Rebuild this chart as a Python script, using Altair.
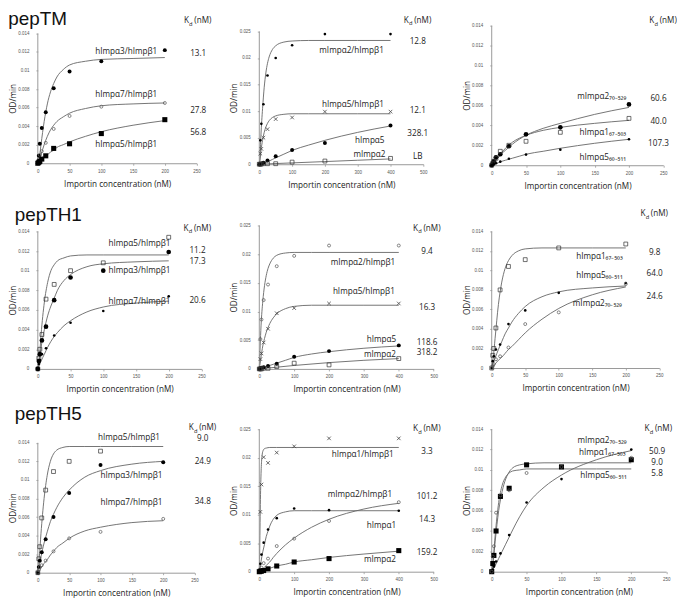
import altair as alt
import pandas as pd

FONT = "Open Sans"
TFONT = "Liberation Sans"

# concentrations of the measured points and of the fitted-curve readings
X200 = [0, 1.5625, 3.125, 6.25, 12.5, 25, 50, 100, 200]
X400 = [0, 3.125, 6.25, 12.5, 25, 50, 100, 200, 400]
G200 = [0, 2.5, 5, 10, 15, 20, 25, 30, 40, 50, 75, 100, 150, 200]
G400 = [0, 2.5, 5, 10, 15, 20, 25, 30, 40, 50, 75, 100, 150, 200, 300, 400]
GFAST = [0, 1, 2, 3, 4, 6, 8, 10, 15, 20, 30, 50, 100, 200, 400]
GLIN = [0, 100, 200, 300, 400]

# ---- pepTM, left
TM1_A3_P = [0, 0.0008, 0.0021, 0.0038, 0.0055, 0.0081, 0.0099, 0.0110, 0.0122]
TM1_A3_F = [0, 0.0006, 0.0020, 0.0045, 0.0064, 0.0077, 0.0086, 0.0093, 0.0101, 0.0106, 0.0110, 0.0112, 0.0113, 0.0114]
TM1_A7_P = [0, 0.0004, 0.0009, 0.0013, 0.0022, 0.0037, 0.0051, 0.0061, 0.0065]
TM1_A7_F = [0, 0.0003, 0.0009, 0.0020, 0.0029, 0.0036, 0.0041, 0.0045, 0.0050, 0.0054, 0.0059, 0.0062, 0.0064, 0.0065]
TM1_A5_P = [0, 0.0001, 0.0002, 0.00045, 0.0008, 0.0016, 0.0021, 0.0032, 0.0047]
TM1_A5_F = [0, 0.0001, 0.0003, 0.0006, 0.0009, 0.0012, 0.0014, 0.0017, 0.0020, 0.0023, 0.0029, 0.0034, 0.0041, 0.0046]
# ---- pepTM, middle
TM2_MA2B_P = [0, 0.0045, 0.0076, 0.0113, 0.0167, 0.0200, 0.0224, 0.0245, 0.0245]
TM2_MA2B_F = [0, 0.0020, 0.0055, 0.0105, 0.0145, 0.0172, 0.0190, 0.0202, 0.0216, 0.0223, 0.0230, 0.0232, 0.0233, 0.0233, 0.0233, 0.0233]
TM2_HA5B_P = [0, 0.0020, 0.0029, 0.0050, 0.0066, 0.0085, 0.0088, 0.0099, 0.0099]
TM2_HA5B_F = [0, 0.0010, 0.0025, 0.0045, 0.0060, 0.0070, 0.0077, 0.0082, 0.0088, 0.0091, 0.0094, 0.0095, 0.0095, 0.0095, 0.0095, 0.0095]
TM2_HA5_P = [0, 0.0001, 0.0001, 0.0003, 0.0007, 0.0015, 0.0027, 0.0040, 0.0073]
TM2_HA5_F = [0, 0.00003, 0.0001, 0.0002, 0.0003, 0.0004, 0.0005, 0.0006, 0.0009, 0.0012, 0.0019, 0.0026, 0.0036, 0.0045, 0.0060, 0.0072]
TM2_MA2_P = [0, 0, 0.00005, 0.0001, 0.0001, 0.0001, 0.0004, 0.0006, 0.0011]
TM2_MA2_F = [0, 0.00025, 0.0005, 0.00075, 0.0010]
# ---- pepTM, right
TM3_MA2_P = [0, 0.0002, 0.0004, 0.0008, 0.0011, 0.0019, 0.0031, 0.0038, 0.0061]
TM3_MA2_F = [0, 0.0002, 0.0004, 0.0008, 0.0012, 0.0015, 0.0018, 0.0021, 0.0026, 0.0030, 0.0037, 0.0042, 0.0051, 0.0058]
TM3_HA1_P = [0, 0.0002, 0.0004, 0.0007, 0.0014, 0.0020, 0.0024, 0.0033, 0.0047]
TM3_HA1_F = [0, 0.0002, 0.0004, 0.0009, 0.0013, 0.0017, 0.0020, 0.0023, 0.0027, 0.0030, 0.0035, 0.0038, 0.0042, 0.0045]
TM3_HA5_P = [0, 0.00005, 0.0001, 0.0002, 0.00036, 0.00065, 0.00107, 0.00156, 0.0026]
TM3_HA5_F = [0, 0.00006, 0.00013, 0.00027, 0.0004, 0.0005, 0.0006, 0.0007, 0.0009, 0.0011, 0.0014, 0.0017, 0.0022, 0.0026]
# ---- pepTH1, left
TH1_A5_P = [0, 0.0011, 0.0020, 0.0035, 0.0071, 0.0086, 0.0100, 0.0108, 0.0134]
TH1_A5_F = [0, 0.0012, 0.0035, 0.0068, 0.0088, 0.0100, 0.0106, 0.0110, 0.0113, 0.0115, 0.0116, 0.0116, 0.0116, 0.0116]
TH1_A3_P = [0, 0.0008, 0.0015, 0.0029, 0.0043, 0.0070, 0.0093, 0.0100, 0.0119]
TH1_A3_F = [0, 0.0010, 0.0022, 0.0040, 0.0054, 0.0064, 0.0072, 0.0080, 0.0090, 0.0096, 0.0104, 0.0107, 0.0109, 0.0110]
TH1_A7_P = [0, 0.0005, 0.0009, 0.0015, 0.0021, 0.0034, 0.0047, 0.0059, 0.0074]
TH1_A7_F = [0, 0.0004, 0.0008, 0.0015, 0.0022, 0.0028, 0.0033, 0.0037, 0.0044, 0.0049, 0.0058, 0.0063, 0.0067, 0.0069]
# ---- pepTH1, middle
TH2_MA2B_P = [0, 0.0052, 0.0086, 0.0120, 0.0147, 0.0179, 0.0197, 0.0215, 0.0215]
TH2_MA2B_F = [0, 0.0040, 0.0075, 0.0118, 0.0145, 0.0163, 0.0175, 0.0183, 0.0193, 0.0198, 0.0202, 0.0203, 0.0203, 0.0203, 0.0203, 0.0203]
TH2_HA5B_P = [0, 0.0017, 0.0027, 0.0046, 0.0070, 0.0097, 0.0106, 0.0114, 0.0114]
TH2_HA5B_F = [0, 0.0010, 0.0021, 0.0040, 0.0053, 0.0064, 0.0072, 0.0079, 0.0089, 0.0096, 0.0105, 0.0109, 0.0111, 0.0111, 0.0111, 0.0111]
TH2_HA5_P = [0, 0.0001, 0.0002, 0.0003, 0.0005, 0.0009, 0.0021, 0.0031, 0.0041]
TH2_HA5_F = [0, 0.00005, 0.0001, 0.0002, 0.0003, 0.0004, 0.0005, 0.0006, 0.0008, 0.0010, 0.0015, 0.0020, 0.0026, 0.0030, 0.0036, 0.0040]
TH2_MA2_P = [0, 0, 0, 0.0001, 0.0001, 0.0004, 0.0010, 0.0007, 0.0018]
TH2_MA2_F = [0, 0.0006, 0.0011, 0.0015, 0.0018]
# ---- pepTH1, right
TH3_HA1_P = [0, 0.0013, 0.0020, 0.0041, 0.0080, 0.0104, 0.0111, 0.0123, 0.0127]
TH3_HA1_F = [0, 0.0012, 0.0030, 0.0065, 0.0088, 0.0102, 0.0110, 0.0115, 0.0120, 0.0122, 0.0123, 0.0123, 0.0123, 0.0123]
TH3_HA5_P = [0, 0.0007, 0.0012, 0.0019, 0.0024, 0.0045, 0.0059, 0.0077, 0.0087]
TH3_HA5_F = [0, 0.0005, 0.0010, 0.0019, 0.0027, 0.0035, 0.0041, 0.0047, 0.0056, 0.0063, 0.0073, 0.0078, 0.0082, 0.0084]
TH3_MA2_P = [0, 0.0002, 0.0004, 0.0009, 0.0012, 0.0021, 0.0045, 0.0057, 0.0086]
TH3_MA2_F = [0, 0.0002, 0.0004, 0.0008, 0.0011, 0.0015, 0.0019, 0.0022, 0.0029, 0.0036, 0.0050, 0.0061, 0.0075, 0.0083]
# ---- pepTH5, left
TH5_A5_P = [0, 0.0015, 0.0028, 0.0059, 0.0089, 0.0109, 0.0120, 0.0131, None]
TH5_A5_F = [0, 0.0018, 0.0042, 0.0080, 0.0105, 0.0120, 0.0128, 0.0132, 0.0135, 0.0136, 0.0136, 0.0136, 0.0136, 0.0136]
TH5_A3_P = [0, 0.0006, 0.0013, 0.0022, 0.0036, 0.0060, 0.0086, 0.0116, 0.0119]
TH5_A3_F = [0, 0.0008, 0.0017, 0.0032, 0.0044, 0.0055, 0.0063, 0.0070, 0.0081, 0.0089, 0.0103, 0.0110, 0.0117, 0.0120]
TH5_A7_P = [0, 0.0003, 0.0006, 0.0008, 0.0013, 0.0023, 0.0037, 0.0044, 0.0058]
TH5_A7_F = [0, 0.0002, 0.0005, 0.0010, 0.0014, 0.0019, 0.0023, 0.0027, 0.0032, 0.0037, 0.0045, 0.0049, 0.0054, 0.0056]
# ---- pepTH5, middle
TH6_HA1B_P = [0, 0.0105, 0.0153, 0.0201, 0.0191, 0.0209, 0.0220, 0.0234, 0.0234]
TH6_HA1B_F = [0, 0.0030, 0.0075, 0.0118, 0.0150, 0.0188, 0.0204, 0.0211, 0.0216, 0.0217, 0.0218, 0.0218, 0.0218, 0.0218, 0.0218]
TH6_MA2B_P = [0, 0.0014, 0.0030, 0.0051, 0.0074, 0.0094, 0.0111, 0.0108, 0.0107]
TH6_MA2B_F = [0, 0.0008, 0.0018, 0.0035, 0.0048, 0.0062, 0.0071, 0.0080, 0.0092, 0.0099, 0.0105, 0.0107, 0.0107, 0.0107, 0.0107, 0.0107]
TH6_HA1_P = [0, 0.0003, 0.0007, 0.0015, 0.0023, 0.0045, 0.0058, 0.0089, 0.0122]
TH6_HA1_F = [0, 0.0001, 0.0002, 0.0005, 0.0008, 0.0011, 0.0014, 0.0017, 0.0025, 0.0032, 0.0047, 0.0059, 0.0078, 0.0092, 0.0110, 0.0120]
TH6_MA2_P = [0, 0.0001, 0.0001, 0.0002, 0.0005, 0.0010, 0.0017, 0.0023, 0.0037]
TH6_MA2_F = [0, 0.00003, 0.0001, 0.0002, 0.0003, 0.0004, 0.0005, 0.0006, 0.0008, 0.0010, 0.0013, 0.0017, 0.0021, 0.0025, 0.0031, 0.0036]
# ---- pepTH5, right
TH7_MA2_P = [0, 0.0002, 0.0005, 0.0010, 0.0018, 0.0036, 0.0068, 0.0091, 0.0120]
TH7_MA2_F = [0, 0.0003, 0.0006, 0.0013, 0.0020, 0.0027, 0.0034, 0.0041, 0.0054, 0.0065, 0.0083, 0.0095, 0.0110, 0.0119]
TH7_HA1_P = [0, 0.0008, 0.0016, 0.0040, 0.0074, 0.0082, 0.0105, 0.0103, 0.0110]
TH7_HA1_F = [0, 0.0012, 0.0030, 0.0060, 0.0079, 0.0091, 0.0098, 0.0102, 0.0105, 0.0106, 0.0107, 0.0107, 0.0107, 0.0107]
TH7_HA5_P = [0, 0.0015, 0.0025, 0.0058, 0.0075, 0.0080, 0.0097, 0.0103, 0.0112]
TH7_HA5_F = [0, 0.0015, 0.0036, 0.0068, 0.0085, 0.0093, 0.0097, 0.0099, 0.0100, 0.0101, 0.0101, 0.0101, 0.0101, 0.0101]

# marker styles
STY = {
    "dot": dict(shape="circle", filled=True, size=16, color="black"),
    "bigdot": dict(shape="circle", filled=True, size=22, color="black"),
    "small": dict(shape="circle", filled=True, size=7, color="black"),
    "opensq": dict(shape="square", filled=False, size=15, strokeWidth=0.7, color="#333"),
    "opencirc": dict(shape="circle", filled=False, size=9, strokeWidth=0.7, color="#555"),
    "x": dict(shape="M-1,-1L1,1M1,-1L-1,1", filled=False, size=13, strokeWidth=0.8, color="#444"),
    "sq": dict(shape="square", filled=True, size=26, color="black"),
}

Y14 = [0, 0.002, 0.004, 0.006, 0.008, 0.01, 0.012, 0.014]
Y25 = [0, 0.005, 0.01, 0.015, 0.02, 0.025]
TXT = "#1a1a1a"


def panel(series, labels, kds, header, xmax, ytop, ydom, w, h, title=None):
    xs = alt.Scale(domain=[0, xmax], nice=False, zero=True)
    ys = alt.Scale(domain=[0, ydom], nice=False, zero=True)
    xticks = list(range(0, xmax + 1, xmax // 5))
    yticks = Y14 if ytop < 0.02 else Y25
    ty = h - (ytop / ydom * h) / 2
    xax = alt.Axis(values=xticks, title="Importin concentration (nM)", grid=False,
                   tickSize=2, tickWidth=0.8, labelPadding=3, labelFontSize=4.5,
                   labelFont=TFONT, labelColor="#555", labelFlush=False,
                   domainColor="#999", tickColor="#999", domainWidth=1,
                   titleFont=FONT, titleFontSize=8.2, titleFontWeight="normal",
                   titleColor=TXT, titleY=21, titleBaseline="middle")
    yax = alt.Axis(values=yticks, format="~g", title="OD/min", grid=False, domain=False,
                   tickSize=2, tickWidth=0.8, labelPadding=7, labelFontSize=4.5,
                   labelFont=TFONT, labelColor="#555", labelFlush=False,
                   tickColor="#999", titleFont=FONT, titleFontSize=8.2,
                   titleFontWeight="normal", titleColor=TXT, titleX=-24.5,
                   titleY=ty, titleBaseline="middle", titleAlign="center", titleAngle=270)
    X = lambda: alt.X("x:Q", scale=xs, axis=xax)
    Y = lambda: alt.Y("y:Q", scale=ys, axis=yax)
    rows = []
    for name, fx, fy, px, py, st in series:
        for a, b in zip(fx, fy):
            rows.append({"x": a, "y": b, "s": name})
    ldf = pd.DataFrame(rows)
    layers = [
        alt.Chart(ldf).mark_line(color="#666", strokeWidth=0.9, interpolate="monotone").encode(
            x=X(), y=Y(), detail="s:N"),
        alt.Chart(pd.DataFrame({"x": [0], "y": [0], "y2": [ytop]})).mark_rule(
            color="#999", strokeWidth=1).encode(x=X(), y=Y(), y2="y2:Q"),
    ]
    for name, fx, fy, px, py, st in series:
        pdf = pd.DataFrame({"x": px, "y": py}).dropna()
        layers.append(alt.Chart(pdf).mark_point(opacity=1, **STY[st]).encode(x=X(), y=Y()))
    tdf = pd.DataFrame(labels, columns=["x", "y", "t"])
    layers.append(alt.Chart(tdf).mark_text(align="left", baseline="middle", font=FONT,
                                           fontSize=8.2, color=TXT).encode(
        x=X(), y=Y(), text="t:N"))
    kdf = pd.DataFrame(kds, columns=["x", "y", "t"])
    layers.append(alt.Chart(kdf).mark_text(align="center", baseline="middle", font=FONT,
                                           fontSize=8.2, color=TXT).encode(
        x=X(), y=Y(), text="t:N"))
    hdf = pd.DataFrame([header], columns=["x", "y"])
    for txt, size, dx, dy in [("K", 8.2, -14, 0), ("d", 5.8, -8.8, 2.5), ("(nM)", 8.2, -3.6, 0)]:
        layers.append(alt.Chart(hdf).mark_text(text=txt, align="left", baseline="middle", font=FONT,
                                               fontSize=size, color=TXT, dx=dx, dy=dy).encode(
            x=X(), y=Y()))
    if title is not None:
        t, tx, tyy = title
        layers.append(alt.Chart(pd.DataFrame({"a": [0]})).mark_text(
            text=t, align="left", baseline="alphabetic", font=TFONT, fontSize=19, color="#111").encode(
            x=alt.value(tx), y=alt.value(tyy)))
    return alt.layer(*layers).properties(width=w, height=h)


p1 = panel(
    [("a3", G200, TM1_A3_F, X200, TM1_A3_P, "dot"),
     ("a7", G200, TM1_A7_F, X200, TM1_A7_P, "opencirc"),
     ("a5", G200, TM1_A5_F, X200, TM1_A5_P, "sq")],
    [(90.5, 0.0120, "hImpα3/hImpβ1"), (90.5, 0.0074, "hImpα7/hImpβ1"), (90.5, 0.0020, "hImpα5/hImpβ1")],
    [(252.6, 0.0118, "13.1"), (252.6, 0.00566, "27.8"), (252.6, 0.00326, "56.8")],
    (252, 0.0153), 250, 0.014, 0.01484, 159.7, 138.4, ("pepTM", -29.7, -0.7))
p2 = panel(
    [("m2b", G400, TM2_MA2B_F, X400, TM2_MA2B_P, "small"),
     ("h5b", G400, TM2_HA5B_F, X400, TM2_HA5B_P, "x"),
     ("h5", G400, TM2_HA5_F, X400, TM2_HA5_P, "dot"),
     ("m2", GLIN, TM2_MA2_F, X400, TM2_MA2_P, "opensq")],
    [(183, 0.0213, "mImpα2/hImpβ1"), (191, 0.0111, "hImpα5/hImpβ1"), (292, 0.0044, "hImpα5"), (287, 0.0018, "mImpα2")],
    [(483, 0.0231, "12.8"), (483, 0.0100, "12.1"), (483, 0.0057, "328.1"), (483, 0.0013, "LB")],
    (483, 0.0270), 500, 0.025, 0.02609, 165, 139.4)
p3 = panel(
    [("m2", G200, TM3_MA2_F, X200, TM3_MA2_P, "bigdot"),
     ("h1", G200, TM3_HA1_F, X200, TM3_HA1_P, "opensq"),
     ("h5", G200, TM3_HA5_F, X200, TM3_HA5_P, "small")],
    [(124.5, 0.00682, "mImpα2₇₀₋₅₂₉"), (128, 0.0032, "hImpα1₆₇₋₅₀₃"), (128, 0.00075, "hImpα5₆₀₋₅₁₁")],
    [(243, 0.0066, "60.6"), (243, 0.0043, "40.0"), (243, 0.0021, "107.3")],
    (250, 0.01445), 250, 0.014, 0.014, 172.6, 140.4)
p4 = panel(
    [("a5", G200, TH1_A5_F, X200, TH1_A5_P, "opensq"),
     ("a3", G200, TH1_A3_F, X200, TH1_A3_P, "bigdot"),
     ("a7", G200, TH1_A7_F, X200, TH1_A7_P, "small")],
    [(108, 0.0127, "hImpα5/hImpβ1"), (108, 0.0100, "hImpα3/hImpβ1"), (108, 0.0068, "hImpα7/hImpβ1")],
    [(244, 0.0120, "11.2"), (244, 0.0109, "17.3"), (244, 0.0069, "20.6")],
    (244, 0.01426), 250, 0.014, 0.0146, 164.6, 144.3, ("pepTH1", -23.3, -4.2))
p5 = panel(
    [("m2b", G400, TH2_MA2B_F, X400, TH2_MA2B_P, "opencirc"),
     ("h5b", G400, TH2_HA5B_F, X400, TH2_HA5B_P, "x"),
     ("h5", G400, TH2_HA5_F, X400, TH2_HA5_P, "dot"),
     ("m2", GLIN, TH2_MA2_F, X400, TH2_MA2_P, "opensq")],
    [(205, 0.0185, "mImpα2/hImpβ1"), (211, 0.0134, "hImpα5/hImpβ1"), (308, 0.0051, "hImpα5"), (300, 0.0025, "mImpα2")],
    [(481, 0.0204, "9.4"), (481, 0.0106, "16.3"), (481, 0.0046, "118.6"), (481, 0.0027, "318.2")],
    (481, 0.02443), 500, 0.025, 0.025, 175.4, 144.3)
p6 = panel(
    [("h1", G200, TH3_HA1_F, X200, TH3_HA1_P, "opensq"),
     ("h5", G200, TH3_HA5_F, X200, TH3_HA5_P, "small"),
     ("m2", G200, TH3_MA2_F, X200, TH3_MA2_P, "opencirc")],
    [(126, 0.0114, "hImpα1₆₇₋₅₀₃"), (126, 0.0094, "hImpα5₆₀₋₅₁₁"), (121, 0.0066, "mImpα2₇₀₋₅₂₉")],
    [(243, 0.0118, "9.8"), (243, 0.0096, "64.0"), (243, 0.0073, "24.6")],
    (242.7, 0.01575), 250, 0.014, 0.0146, 168.6, 143.4)
p7 = panel(
    [("a5", G200, TH5_A5_F, X200, TH5_A5_P, "opensq"),
     ("a3", G200, TH5_A3_F, X200, TH5_A3_P, "dot"),
     ("a7", G200, TH5_A7_F, X200, TH5_A7_P, "opencirc")],
    [(96, 0.0145, "hImpα5/hImpβ1"), (100, 0.0104, "hImpα3/hImpβ1"), (100, 0.0075, "hImpα7/hImpβ1")],
    [(263, 0.0144, "9.0"), (263, 0.0119, "24.9"), (263, 0.0076, "34.8")],
    (263, 0.01554), 250, 0.014, 0.01546, 157.7, 144.3, ("pepTH5", -23.3, -9.6))
p8 = panel(
    [("h1b", GFAST, TH6_HA1B_F, X400, TH6_HA1B_P, "x"),
     ("m2b", G400, TH6_MA2B_F, X400, TH6_MA2B_P, "small"),
     ("h1", G400, TH6_HA1_F, X400, TH6_HA1_P, "opencirc"),
     ("m2", G400, TH6_MA2_F, X400, TH6_MA2_P, "sq")],
    [(208, 0.0204, "hImpα1/hImpβ1"), (196, 0.0134, "mImpα2/hImpβ1"), (308, 0.0081, "hImpα1"), (300, 0.0021, "mImpα2")],
    [(481, 0.0210, "3.3"), (481, 0.0131, "101.2"), (481, 0.0091, "14.3"), (481, 0.0033, "159.2")],
    (481, 0.0250), 500, 0.025, 0.025, 175.4, 143.3)
p9 = panel(
    [("m2", G200, TH7_MA2_F, X200, TH7_MA2_P, "small"),
     ("h1", G200, TH7_HA1_F, X200, TH7_HA1_P, "sq"),
     ("h5", G200, TH7_HA5_F, X200, TH7_HA5_P, "opencirc")],
    [(123, 0.0128, "mImpα2₇₀₋₅₂₉"), (125, 0.01165, "hImpα1₆₇₋₅₀₃"), (127, 0.0094, "hImpα5₆₀₋₅₁₁")],
    [(237, 0.0118, "50.9"), (237, 0.0107, "9.0"), (237, 0.0096, "5.8")],
    (239, 0.0140), 250, 0.014, 0.014, 175.5, 143.3)

chart = alt.concat(p1, p2, p3, p4, p5, p6, p7, p8, p9, columns=3,
                   spacing={"row": 60, "column": 57.8}, bounds="flush").properties(
    padding=0).configure_view(stroke=None)

chart.save("out.html", embed_options={"renderer": "svg", "actions": False})
